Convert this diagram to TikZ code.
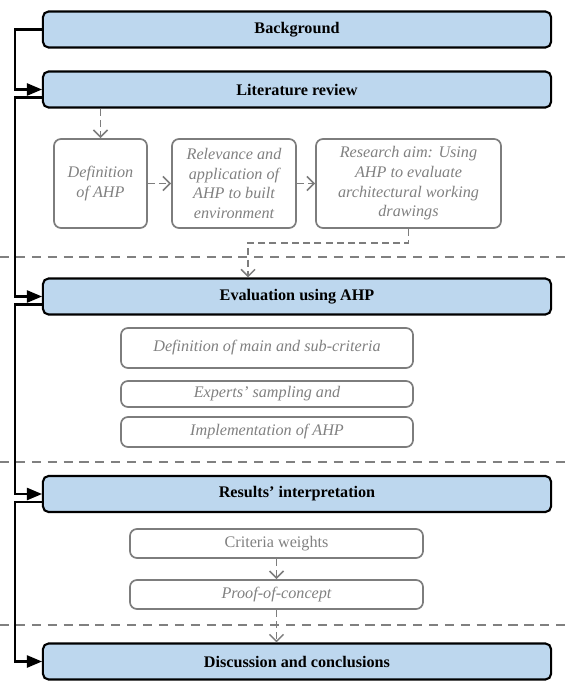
\documentclass[tikz,border=0pt]{standalone}
\usepackage{fontspec}
\setmainfont{Liberation Serif}
\usepackage{xcolor}
\usepackage{tikz}
\usetikzlibrary{arrows, arrows.meta, positioning, calc}
\definecolor{stageblue}{RGB}{189, 215, 238}
\definecolor{taskgray}{RGB}{125, 125, 125}
\definecolor{textgray}{RGB}{128, 128, 128}
\definecolor{sepgray}{RGB}{128, 128, 128}

\begin{document}
\begin{tikzpicture}[
    x=0.025cm, y=-0.025cm,
    stage/.style={rectangle, draw=black, line width=1.5pt, rounded corners=4pt, fill=stageblue,
                  minimum width=12.7cm, minimum height=0.9cm, inner sep=0pt,
                  font=\bfseries\fontsize{11.5}{13}\selectfont},
    task/.style={rectangle, draw=taskgray, line width=1.2pt, rounded corners=5pt, inner sep=0pt,
                 text=textgray, align=center, font=\itshape\fontsize{11.5}{14}\selectfont},
    flow/.style={->, >=triangle 45, line width=1.5pt},
    link/.style={-{Straight Barb[length=5pt, width=10pt]}, draw=taskgray, line width=1.1pt,
                 dash pattern=on 5pt off 3pt},
    separator/.style={draw=sepgray, line width=2pt, dash pattern=on 6.5pt off 4.8pt}
]
\useasboundingbox (0,0) rectangle (570,681);

% Stages
\node[stage] (bg) at (297,29.5) {Background};
\node[stage] (lit) at (297,89.5) {Literature review};
\node[stage] (eval) at (297,296.5) {Evaluation using AHP};
\node[stage] (res) at (297,494) {Results' interpretation};
\node[stage] (disc) at (297,661.5) {Discussion and conclusions};

% Literature tasks
\node[task, minimum width=2.325cm, minimum height=2.225cm] (def) at (100.5,183.5) {Definition\\of AHP};
\node[task, minimum width=3.1cm, minimum height=2.225cm] (rel) at (234,183.5) {Relevance and\\application of\\AHP to built\\environment};
\node[task, minimum width=4.625cm, minimum height=2.225cm] (aim) at (408.5,183.5) {Research aim: Using\\AHP to evaluate\\architectural working\\drawings};

% Evaluation tasks
\node[task, minimum width=7.3cm, minimum height=1cm] (crit) at (267,348) {Definition of main and sub-criteria};
\node[task, minimum width=7.3cm, minimum height=0.65cm] (samp) at (267,394) {Experts' sampling and};
\node[task, minimum width=7.3cm, minimum height=0.75cm] (impl) at (267,432) {Implementation of AHP};

% Results tasks
\node[task, minimum width=7.325cm, minimum height=0.725cm, font=\fontsize{11.5}{14}\selectfont] (weights) at (276.5,543.5) {Criteria weights};
\node[task, minimum width=7.325cm, minimum height=0.725cm] (proof) at (276.5,594.5) {Proof-of-concept};

% Separators
\draw[separator] (0,257) -- (570,257);
\draw[separator] (0,462) -- (570,462);
\draw[separator] (0,625) -- (570,625);

% Main flow
\draw[flow] (bg.west) -- ++(-27,0) |- (lit.west);
\draw[flow] ([yshift=-0.2cm]lit.west) -- ++(-27,0) |- (eval.west);
\draw[flow] ([yshift=-0.2cm]eval.west) -- ++(-27,0) |- (res.west);
\draw[flow] ([yshift=-0.2cm]res.west) -- ++(-27,0) |- (disc.west);

% Links
\coordinate (drop) at (248,243);
\draw[link] (lit.south -| def.north) -- (def.north);
\draw[link] (def) -- (rel);
\draw[link] (rel) -- (aim);
\draw[link] (aim.south) |- (drop) -- (drop |- eval.north);
\draw[link] (weights) -- (proof);
\draw[link] (proof.south) -- (proof.south |- disc.north);

\end{tikzpicture}
\end{document}
